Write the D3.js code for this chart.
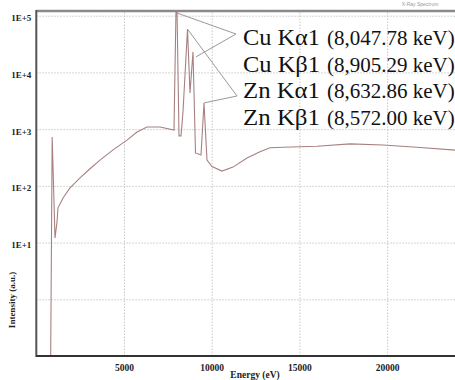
<!DOCTYPE html>
<html>
<head>
<meta charset="utf-8">
<script src="https://cdn.jsdelivr.net/npm/d3@7"></script>
<style>
  body { margin: 0; background: #fff; }
  svg { display: block; }
  .serif { font-family: 'Liberation Serif', 'DejaVu Serif', 'Times New Roman', serif; }
</style>
</head>
<body>
<div id="chart"></div>
<script>
// X-ray spectrum, log intensity
const energy = [820, 905, 1066, 1180, 1237, 1523, 1921, 2492, 3062, 3632, 4375, 5171, 5743, 6311, 7052, 7850,
    7965, 8022, 8136, 8250, 8363, 8620, 8763, 8934, 9077, 9390, 9561, 9732,
    10019, 10587, 11214, 12012, 12754, 13324, 14065, 16003, 17885, 19766, 21704, 23950]
const intensity = [0.1, 724, 12, 23, 41, 61, 92, 138, 200, 284, 430, 640, 890, 1090, 1090, 960,
    1.3e5, 1.3e5, 760, 760, 2000, 58000, 4350, 23000, 380, 350, 2900, 284,
    219, 182, 214, 309, 400, 470, 480, 500, 550, 525, 480, 425]

const xTicks = [5000, 10000, 15000, 20000]
const yTicks = [1e1, 1e2, 1e3, 1e4, 1e5]
const yGrid = [1e0, 1e1, 1e2, 1e3, 1e4, 1e5]

const lineNames = ["Cu K\u03b11", "Cu K\u03b21", "Zn K\u03b11", "Zn K\u03b21"]
const lineEnergies = ["(8,047.78 keV)", "(8,905.29 keV)", "(8,632.86 keV)", "(8,572.00 keV)"]
// peaks the leader lines point at (energy in eV)
const peakTargets = [8022, 8934, 8620, 9561]

const width = 455, height = 380
const padLeft = 36.3, padTop = 11, axisY = 356
const curveColor = "#a88080"

const svg = d3.select("#chart").append("svg")
    .attr("width", width)
    .attr("height", height)

const x = d3.scaleLinear()
    .domain([0, 5000])
    .range([padLeft, padLeft + 87.7])

const y = d3.scaleLog()
    .domain([0.1, 1e5])
    .range([axisY, 15.7])

// grid
svg.append("g")
    .attr("transform", `translate(0,${axisY})`)
    .call(d3.axisBottom(x).tickValues(xTicks).tickSize(-(axisY - padTop)).tickFormat(""))
    .call(g => g.select(".domain").remove())
    .selectAll("line")
    .attr("stroke", "#c8c8c8")
    .attr("stroke-dasharray", "1.5,1.5")

svg.append("g")
    .attr("transform", `translate(${padLeft},0)`)
    .call(d3.axisLeft(y).tickValues(yGrid).tickSize(-(width - padLeft)).tickFormat(""))
    .call(g => g.select(".domain").remove())
    .selectAll("line")
    .attr("stroke", "#c8c8c8")
    .attr("stroke-dasharray", "1.5,1.5")

// tick labels
svg.append("g")
    .attr("transform", `translate(0,${axisY})`)
    .call(d3.axisBottom(x).tickValues(xTicks).tickSize(0).tickPadding(8).tickFormat(d3.format("d")))
    .call(g => g.select(".domain").remove())
    .attr("font-family", null)
    .selectAll("text")
    .attr("class", "serif")
    .attr("font-weight", "bold")
    .attr("font-size", "9.5px")
    .attr("fill", "#222")

svg.append("g")
    .attr("transform", `translate(${padLeft},0)`)
    .call(d3.axisLeft(y).tickValues(yTicks).tickSize(0).tickPadding(5)
        .tickFormat(d => "1E+" + Math.round(Math.log10(d))))
    .call(g => g.select(".domain").remove())
    .attr("font-family", null)
    .selectAll("text")
    .attr("class", "serif")
    .attr("font-weight", "bold")
    .attr("font-size", "9px")
    .attr("dy", "0.55em")
    .attr("fill", "#222")

// spectrum
svg.append("clipPath").attr("id", "plotClip")
    .append("rect")
    .attr("x", padLeft).attr("y", padTop)
    .attr("width", width - padLeft).attr("height", axisY - padTop)

const pts = energy.map((e, i) => [e, intensity[i]])

svg.append("path")
    .datum(pts)
    .attr("clip-path", "url(#plotClip)")
    .attr("fill", "none")
    .attr("stroke", curveColor)
    .attr("stroke-width", 1.1)
    .attr("d", d3.line().x(d => x(d[0])).y(d => y(d[1])))

// frame
svg.append("line").attr("x1", padLeft).attr("x2", width).attr("y1", padTop).attr("y2", padTop)
    .attr("stroke", "#8a8a8a").attr("stroke-width", 2.5)
svg.append("line").attr("x1", padLeft).attr("x2", padLeft).attr("y1", padTop - 1).attr("y2", axisY + 1)
    .attr("stroke", "#555").attr("stroke-width", 2)
svg.append("line").attr("x1", padLeft).attr("x2", width).attr("y1", axisY).attr("y2", axisY)
    .attr("stroke", "#333").attr("stroke-width", 2)

// leader lines
const peakPoint = e => {
    const i = energy.indexOf(e)
    return [x(e), Math.max(y(intensity[i]), padTop + 2)]
}
const anchors = [[236, 34], [236, 34], [237, 96], [237, 96]]
const offsets = [[0, 0], [3, 5], [0, 0], [0, 0]]
svg.append("g")
    .selectAll("line")
    .data(peakTargets)
    .join("line")
    .attr("x1", (d, i) => anchors[i][0])
    .attr("y1", (d, i) => anchors[i][1])
    .attr("x2", (d, i) => peakPoint(d)[0] + offsets[i][0])
    .attr("y2", (d, i) => peakPoint(d)[1] + offsets[i][1])
    .attr("stroke", "#999")
    .attr("stroke-width", 1)

// annotations
const ann = svg.append("g")
ann.selectAll(".name")
    .data(lineNames)
    .join("text")
    .attr("class", "serif name")
    .attr("x", 243)
    .attr("y", (d, i) => 45 + i * 26.7)
    .attr("font-size", "23px")
    .attr("textLength", 77)
    .attr("lengthAdjust", "spacingAndGlyphs")
    .attr("fill", "#111")
    .text(d => d)

ann.selectAll(".energy")
    .data(lineEnergies)
    .join("text")
    .attr("class", "serif energy")
    .attr("x", 327)
    .attr("y", (d, i) => 45 + i * 26.7)
    .attr("font-size", "21px")
    .attr("fill", "#111")
    .text(d => d)

// titles
svg.append("text")
    .attr("x", 420).attr("y", 6)
    .attr("text-anchor", "middle")
    .attr("font-family", "Liberation Sans, sans-serif")
    .attr("font-size", "5px")
    .attr("fill", "#999")
    .text("X-Ray Spectrum")

svg.append("text")
    .attr("class", "serif")
    .attr("x", 255).attr("y", 378)
    .attr("text-anchor", "middle")
    .attr("font-weight", "bold")
    .attr("font-size", "9.5px")
    .attr("fill", "#222")
    .text("Energy (eV)")

svg.append("text")
    .attr("class", "serif")
    .attr("transform", "translate(15,300) rotate(-90)")
    .attr("text-anchor", "middle")
    .attr("font-weight", "bold")
    .attr("font-size", "9px")
    .attr("fill", "#222")
    .text("Intensity (a.u.)")
</script>
</body>
</html>
